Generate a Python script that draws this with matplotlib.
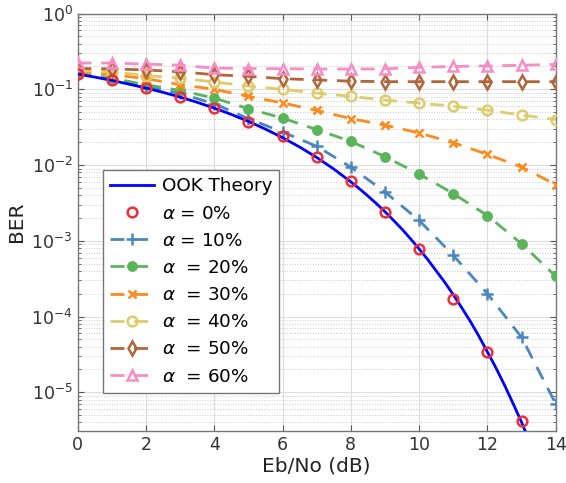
import numpy as np
import matplotlib
matplotlib.use("Agg")
import matplotlib.pyplot as plt
from matplotlib.ticker import LogLocator, NullFormatter

# Eb/No grid (dB)
ebno = [0, 1, 2, 3, 4, 5, 6, 7, 8, 9, 10, 11, 12, 13, 14]

# smooth OOK theory curve (denser where it bends down fast)
theory_x = [0, 0.5, 1, 1.5, 2, 2.5, 3, 3.5, 4, 4.5, 5, 5.5, 6, 6.5, 7, 7.5,
            8, 8.25, 8.5, 8.75, 9, 9.25, 9.5, 9.75, 10, 10.25, 10.5, 10.75,
            11, 11.25, 11.5, 11.75, 12, 12.25, 12.5, 12.75, 13, 13.25, 13.5]
theory_ber = [0.159, 0.145, 0.131, 0.117, 0.104, 0.0912, 0.0789, 0.0673,
              0.0565, 0.0466, 0.0377, 0.0298, 0.0230, 0.0173, 0.0126,
              0.00886, 0.0060, 0.00487, 0.0039, 0.00309, 0.00242, 0.00186,
              0.00142, 0.00106, 7.8e-4, 5.67e-4, 4.0e-4, 2.83e-4,
              1.94e-4, 1.30e-4, 8.6e-5, 5.49e-5, 3.4e-5, 2.09e-5,
              1.24e-5, 7.1e-6, 4.0e-6, 2.14e-6, 1.1e-6]

# simulated points per alpha
ber_a0 = [0.157, 0.131, 0.104, 0.080, 0.057, 0.0368, 0.024, 0.0127,
          0.0061, 0.0024, 7.8e-4, 1.7e-4, 3.4e-5, 4.2e-6]
ber_a10 = [0.160, 0.135, 0.110, 0.088, 0.0645, 0.041, 0.0273, 0.0177,
           0.0094, 0.0044, 0.00186, 6.4e-4, 2.0e-4, 5.3e-5, 7.0e-6]
ber_a20 = [0.165, 0.140, 0.115, 0.0966, 0.0766, 0.0555, 0.0417, 0.0294,
           0.0205, 0.0129, 0.0076, 0.0042, 0.00215, 9.1e-4, 3.4e-4]
ber_a30 = [0.170, 0.156, 0.138, 0.115, 0.100, 0.0806, 0.066, 0.0527,
           0.041, 0.0336, 0.0265, 0.0197, 0.0138, 0.0094, 0.0055]
ber_a40 = [0.177, 0.170, 0.152, 0.140, 0.125, 0.110, 0.100, 0.089,
           0.0805, 0.072, 0.0656, 0.060, 0.053, 0.0457, 0.0398]
ber_a50 = [0.188, 0.186, 0.180, 0.170, 0.156, 0.148, 0.138, 0.133,
           0.128, 0.126, 0.126, 0.126, 0.126, 0.126, 0.126]
ber_a60 = [0.222, 0.222, 0.215, 0.208, 0.190, 0.188, 0.187, 0.185,
           0.185, 0.186, 0.195, 0.200, 0.203, 0.208, 0.213]

labels = ["$\\alpha$ = 0%", "$\\alpha$ = 10%", "$\\alpha$  = 20%",
          "$\\alpha$  = 30%", "$\\alpha$  = 40%", "$\\alpha$  = 50%",
          "$\\alpha$  = 60%"]

fig = plt.figure(figsize=(5.66, 4.83), dpi=100)
ax = fig.add_axes([0.137, 0.108, 0.845, 0.864])

ax.plot(theory_x, theory_ber, color="#0000ff", lw=2.0, label="OOK Theory",
        zorder=5)
ax.plot(ebno[:14], ber_a0, ls="none", marker="o", ms=7, mfc="none",
        mec="#ee2e38", mew=1.8, label=labels[0], zorder=6)

dash = (0, (5, 3.5))
series = [
    (ber_a10, "#4a87c0", "+", "#4a87c0", 8),
    (ber_a20, "#5ab55a", "o", "#5ab55a", 6),
    (ber_a30, "#ff8a1c", "x", "#ff8a1c", 6),
    (ber_a40, "#ddcb6c", "o", "none", 7),
    (ber_a50, "#b0663a", "d", "none", 7),
    (ber_a60, "#f78dc6", "^", "none", 7),
]
for (vals, col, mk, mfc, ms), lab in zip(series, labels[1:]):
    ax.plot(ebno, vals, ls=dash, color=col, lw=2.0, marker=mk, ms=ms,
            mfc=mfc, mec=col, mew=1.8, label=lab, zorder=4)

ax.set_yscale("log")
ax.set_xlim(0, 14)
ax.set_ylim(3.1e-6, 1)
ax.set_xticks(range(0, 15, 2))
ax.yaxis.set_major_locator(LogLocator(base=10, numticks=10))
ax.yaxis.set_minor_locator(LogLocator(base=10, subs=np.arange(2, 10),
                                      numticks=20))
ax.yaxis.set_minor_formatter(NullFormatter())

ax.grid(True, which="major", color="#dddddd", lw=0.8, ls="-")
ax.grid(True, which="minor", axis="y", color="#cccccc", lw=0.7, ls=":")
ax.set_axisbelow(True)

ax.tick_params(which="both", direction="in", top=True, right=True,
               colors="#555555", labelcolor="#333333", labelsize=12.5)
ax.tick_params(which="major", length=4)
ax.tick_params(which="minor", length=2.5)
for sp in ax.spines.values():
    sp.set_color("#777777")
    sp.set_linewidth(1.0)

ax.set_xlabel("Eb/No (dB)", fontsize=14.5, color="#222222", labelpad=2)
ax.set_ylabel("BER", fontsize=14.5, color="#222222", labelpad=4)

leg = ax.legend(loc="lower left", bbox_to_anchor=(0.053, 0.091),
                borderaxespad=0, fontsize=13.2, frameon=True, fancybox=False,
                edgecolor="#777777", framealpha=1, handlelength=2.4,
                labelspacing=0.5, borderpad=0.4, handletextpad=0.4)
leg.get_frame().set_linewidth(1.0)

fig.savefig("out.png", dpi=100)
